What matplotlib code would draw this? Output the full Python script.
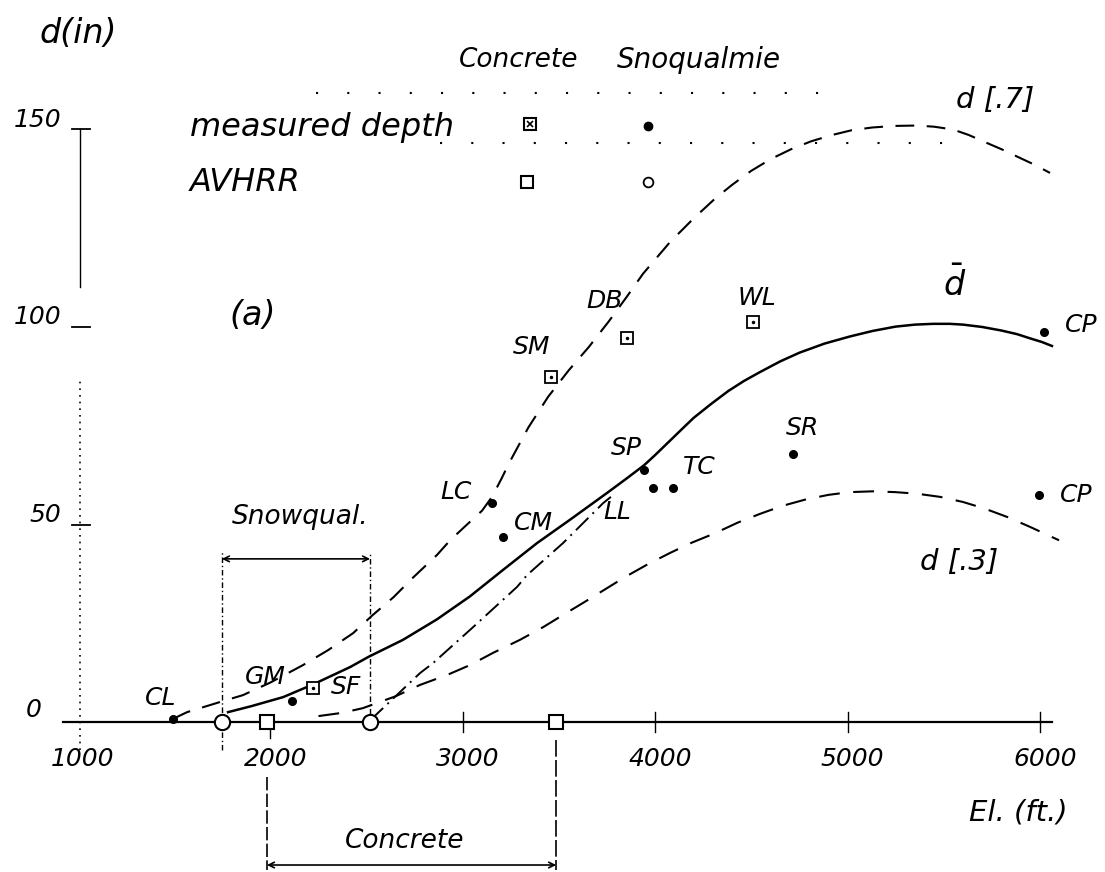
import matplotlib
matplotlib.use("Agg")
import matplotlib.pyplot as plt

# hand-drawn style lettering
plt.rcParams['font.family'] = ['DejaVu Sans']
plt.rcParams['mathtext.fontset'] = 'dejavusans'

# ---------------- data ----------------
# mean depth d-bar (solid)
dbar_x = [1780, 1900, 2066, 2221, 2414, 2510, 2689, 2866, 3037, 3209, 3386, 3557,
          3750, 3850, 3942, 4000, 4070, 4140, 4200, 4290, 4380, 4460, 4545, 4650,
          4750, 4880, 5012, 5130, 5250, 5350, 5444, 5530, 5600, 5700, 5800, 5880,
          5950, 6010, 6062]
dbar_y = [2.5, 4.0, 6.3, 9.5, 13.9, 16.5, 20.8, 26.0, 31.8, 38.5, 45.3, 51.2,
          58.0, 61.6, 65.0, 67.6, 70.9, 74.2, 77.0, 80.5, 83.8, 86.3, 88.6, 91.3,
          93.5, 95.8, 97.6, 99.0, 100.1, 100.6, 100.8, 100.8, 100.6, 100.0, 99.1, 98.2,
          97.1, 96.2, 95.2]

# d[.7] (dashed, upper)
d7_x = [1494, 1567, 1754, 1857, 2000, 2169, 2300, 2430, 2530, 2640, 2740, 2866,
        2934, 3022, 3100, 3152, 3200, 3240, 3340, 3443, 3550, 3656, 3760, 3850,
        3937, 4077, 4200, 4311, 4400, 4498, 4600, 4706, 4810, 4919, 5020, 5127,
        5240, 5361, 5450, 5548, 5630, 5714, 5800, 5896, 5975, 6052]
d7_y = [0.8, 2.5, 5.3, 6.8, 10.0, 14.4, 18.2, 22.5, 27.0, 31.6, 36.5, 42.3,
        46.0, 50.0, 53.5, 57.0, 61.5, 65.5, 74.5, 82.3, 89.0, 95.0, 101.5, 107.5,
        113.5, 121.5, 127.5, 132.5, 136.0, 139.5, 142.5, 145.0, 147.0, 148.6, 149.8, 150.5,
        150.9, 151.0, 150.7, 150.0, 148.6, 146.8, 145.0, 142.8, 141.0, 139.0]

# d[.3] (dashed, lower)
d3_x = [2250, 2370, 2480, 2650, 2778, 2918, 3037, 3157, 3297, 3417, 3521, 3630,
        3740, 3843, 3960, 4077, 4190, 4311, 4430, 4545, 4660, 4779, 4900, 5012,
        5130, 5246, 5360, 5480, 5600, 5714, 5830, 5948, 6099]
d3_y = [1.5, 2.3, 3.5, 6.5, 9.4, 11.9, 14.4, 17.5, 20.8, 24.0, 27.1, 30.3,
        33.6, 36.7, 39.9, 42.8, 45.4, 47.8, 50.5, 52.7, 54.7, 56.3, 57.5, 58.2,
        58.4, 58.2, 57.8, 57.0, 55.7, 54.0, 51.9, 49.4, 46.0]

# Concrete line (dash-dot)
cc_x = [2520, 2585, 2778, 2845, 3053, 3282, 3334, 3521, 3729, 3770]
cc_y = [0.5, 3.5, 12.4, 14.9, 24.0, 34.2, 37.2, 45.3, 55.4, 57.0]

# measured depth, Snoqualmie (filled dots)
sn_names = ['CL', 'GM', 'LC', 'CM', 'SP', 'LL', 'TC', 'SR', 'CP', 'CP']
sn_x = [1494, 2112, 3152, 3209, 3942, 3989, 4093, 4716, 6021, 5995]
sn_y = [0.8, 5.3, 55.4, 46.8, 63.8, 59.2, 59.2, 67.8, 98.7, 57.5]

# measured depth, Concrete (boxed squares)
co_names = ['SF', 'SM', 'DB', 'WL']
co_x = [2221, 3458, 3853, 4508]
co_y = [8.6, 87.3, 97.2, 101.3]

# AVHRR snow line elevations
avhrr_sn_x = [1748, 2518]
avhrr_co_x = [1982, 3485]

x_ticks = [1000, 2000, 3000, 4000, 5000, 6000]
y_ticks = [50, 100, 150]

# label offsets (points) for station names
sn_off = [(-9, 15), (-19, 17), (-26, 8), (22, 10), (-13, 16), (-26, -17),
          (19, 15), (7, 19), (27, 5), (27, 0)]
co_off = [(24, 1), (-14, 22), (-16, 27), (3, 17)]

HAND = dict(fontstyle='italic', color='black')

fig = plt.figure(figsize=(11.05, 8.72), dpi=100)
ax = fig.add_axes([0, 0, 1, 1])
ax.set_xlim(594.6, 6337.8)
ax.set_ylim(-37.97, 182.78)
ax.axis('off')

# axes drawn by hand
ax.plot([920, 6062], [0, 0], color='black', lw=1.6)
ax.plot([1010, 1010], [110, 150], color='black', lw=1.0)
ax.plot([1010, 1010], [-7, 87], color='black', lw=1.2, ls=(0, (1, 3)))
for v in y_ticks:
    ax.plot([970, 1060], [v, v], color='black', lw=1.3)
    ax.text(915, v + 2.5, str(v), ha='right', va='center', fontsize=18, **HAND)
ax.text(771, 3, '0', ha='center', va='center', fontsize=18, **HAND)
for v in x_ticks[2:]:
    ax.plot([v, v], [-2.5, 2.5], color='black', lw=1.0)
ax.plot([2000, 2000], [-1, -4], color='black', lw=1.0)
for v in x_ticks:
    ax.text(v + 25, -9.3, str(v), ha='center', va='center', fontsize=18, **HAND)
ax.text(5886, -23, 'El. (ft.)', ha='center', va='center', fontsize=21, **HAND)
ax.text(802, 174.4, 'd(in)', ha='left', va='center', fontsize=24, **HAND)
ax.text(1910, 103, '(a)', ha='center', va='center', fontsize=24, **HAND)

# curves
ax.plot(dbar_x, dbar_y, color='black', lw=1.8)
ax.plot(d7_x, d7_y, color='black', lw=1.5, ls=(0, (9, 6)))
ax.plot(d3_x, d3_y, color='black', lw=1.5, ls=(0, (10, 6.5)))
ax.plot(cc_x, cc_y, color='black', lw=1.4, ls=(0, (9, 3, 1, 3)))

ax.text(5558, 110.6, r'$\bar{d}$', ha='center', va='center', fontsize=24)
ax.text(5766, 157.5, 'd [.7]', ha='center', va='center', fontsize=21, **HAND)
ax.text(5579, 40.5, 'd [.3]', ha='center', va='center', fontsize=21, **HAND)

# AVHRR markers on the axis
ax.plot(avhrr_sn_x, [0] * len(avhrr_sn_x), 'o', ms=11, mfc='white',
        mec='black', mew=1.5, zorder=5)
ax.plot(avhrr_co_x, [0] * len(avhrr_co_x), 's', ms=10, mfc='white',
        mec='black', mew=1.5, zorder=5)

# measured points
ax.plot(sn_x, sn_y, 'o', ms=5.5, color='black', zorder=5)
ax.plot(co_x, co_y, 's', ms=8, mfc='white', mec='black', mew=1.3, zorder=5)
ax.plot(co_x, co_y, '.', ms=3, color='black', zorder=6)
for name, x, y, off in zip(sn_names, sn_x, sn_y, sn_off):
    ax.annotate(name, (x, y), xytext=off, textcoords='offset points',
                ha='center', va='center', fontsize=18, **HAND)
for name, x, y, off in zip(co_names, co_x, co_y, co_off):
    ax.annotate(name, (x, y), xytext=off, textcoords='offset points',
                ha='center', va='center', fontsize=18, **HAND)

# range brackets: Snoqualmie and Concrete
ax.plot([avhrr_sn_x[0]] * 2, [-7, 43], color='black', lw=1.0, ls=(0, (4, 2, 1, 2)))
ax.plot([avhrr_sn_x[1]] * 2, [2, 43], color='black', lw=1.0, ls=(0, (4, 2, 1, 2)))
ax.annotate('', xy=(avhrr_sn_x[0], 41.3), xytext=(avhrr_sn_x[1], 41.3),
            arrowprops=dict(arrowstyle='<->', lw=1.2, color='black',
                            shrinkA=0, shrinkB=0))
ax.text(2154, 52, 'Snowqual.', ha='center', va='center', fontsize=19, **HAND)

ax.plot([avhrr_co_x[0]] * 2, [-14, -37.5], color='black', lw=1.2, ls=(0, (8, 2)))
ax.plot([avhrr_co_x[1]] * 2, [-4.6, -37.5], color='black', lw=1.2, ls=(0, (10, 2)))
ax.annotate('', xy=(avhrr_co_x[0], -36.2), xytext=(avhrr_co_x[1], -36.2),
            arrowprops=dict(arrowstyle='<->', lw=1.2, color='black',
                            shrinkA=0, shrinkB=0))
ax.text(2700, -30, 'Concrete', ha='center', va='center', fontsize=19, **HAND)

# legend block
ax.text(3292, 167.6, 'Concrete', ha='center', va='center', fontsize=19, **HAND)
ax.text(4228, 167.6, 'Snoqualmie', ha='center', va='center', fontsize=20, **HAND)
ax.text(1582, 150.6, 'measured depth', ha='left', va='center', fontsize=23, **HAND)
ax.text(1582, 136.7, 'AVHRR', ha='left', va='center', fontsize=23, **HAND)
ax.plot([2236, 4867], [159.2, 159.2], color='black', lw=1.5, ls=(0, (1, 14)))
ax.plot([2880, 5532], [146.6, 146.6], color='black', lw=1.5, ls=(0, (1, 14)))
ax.plot([3349], [151.4], 's', ms=8, mfc='white', mec='black', mew=1.5)
ax.plot([3349], [151.4], 'x', ms=5, color='black', mew=1.2)
ax.plot([3963], [151.0], 'o', ms=6, color='black')
ax.plot([3334], [136.7], 's', ms=8, mfc='white', mec='black', mew=1.5)
ax.plot([3963], [136.7], 'o', ms=7, mfc='white', mec='black', mew=1.3)

fig.savefig('out.png', dpi=100)
